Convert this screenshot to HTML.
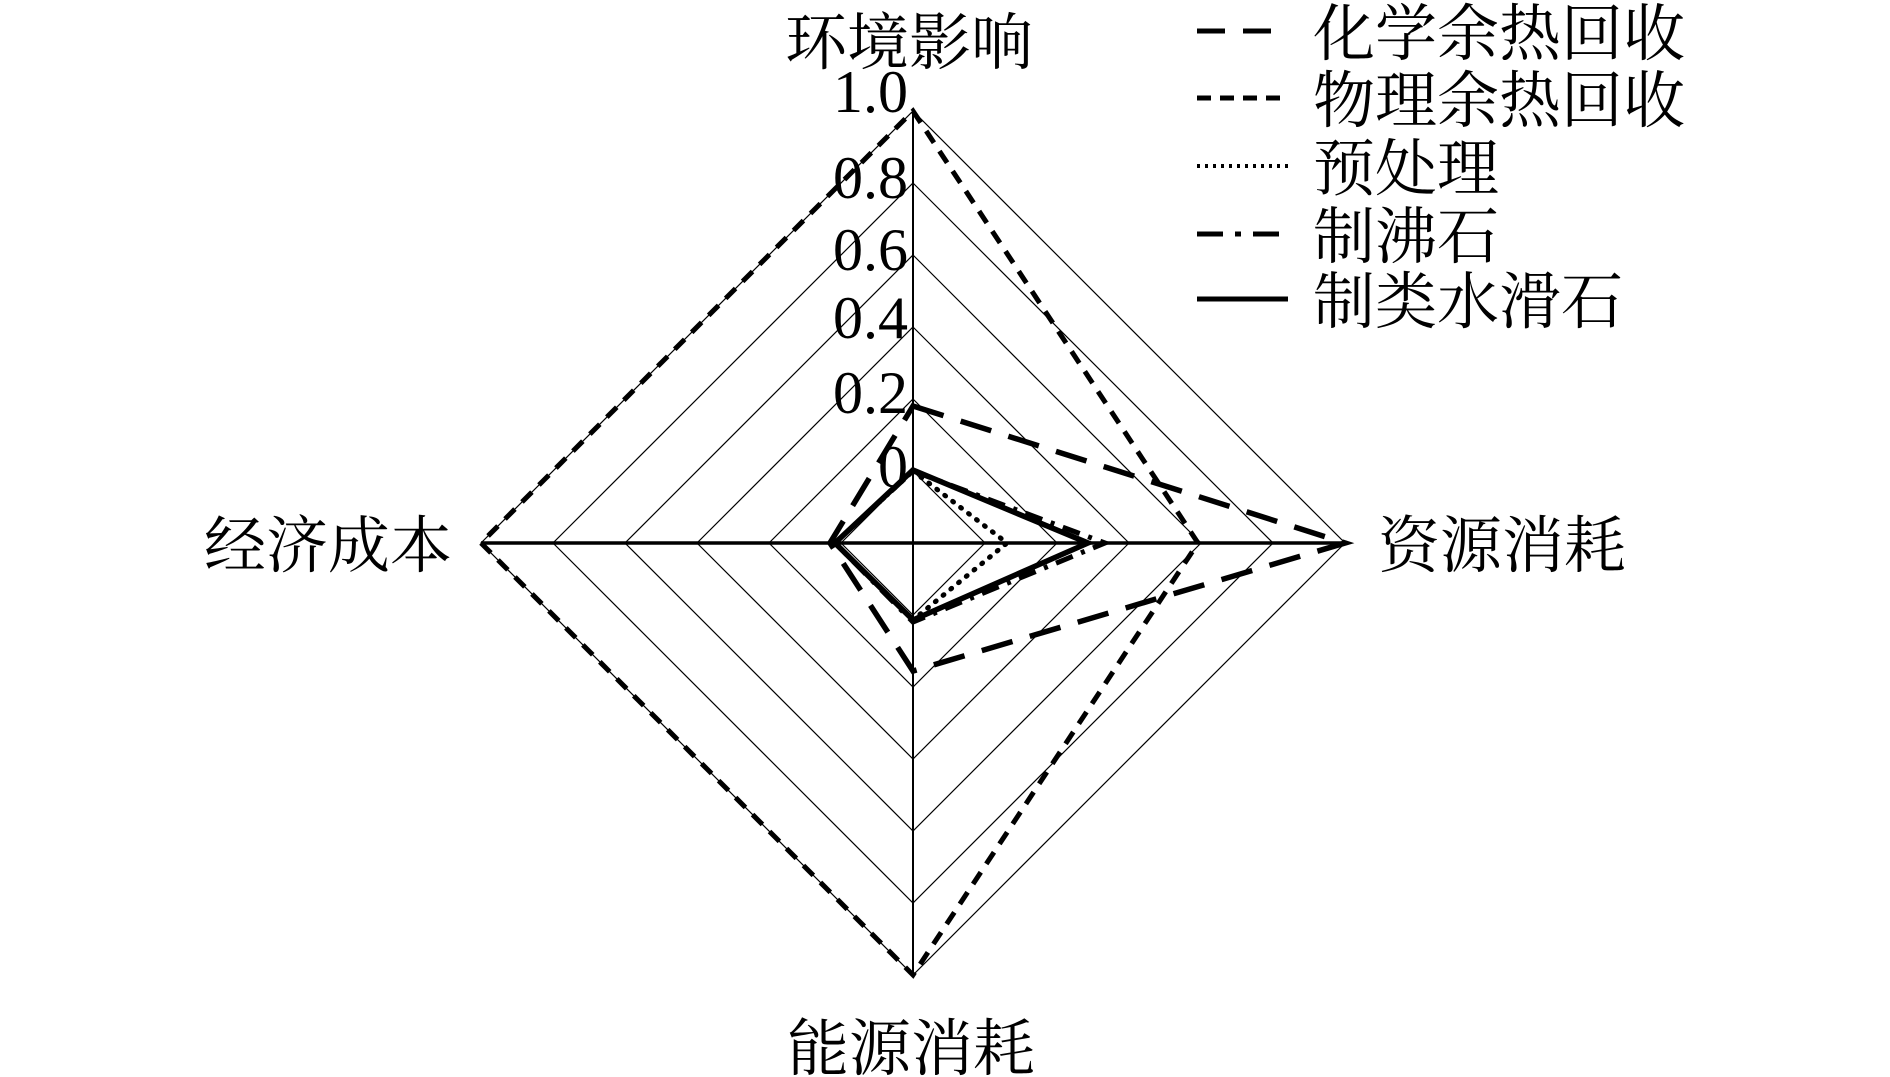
<!DOCTYPE html>
<html><head><meta charset="utf-8"><style>
html,body{margin:0;padding:0;background:#fff;}
svg{display:block;}
text{font-family:"Liberation Serif","Noto Serif CJK SC",serif;fill:#000;}
.cjk{font-family:"Noto Serif CJK SC","Liberation Serif",serif;}
</style></head><body>
<svg width="1890" height="1077" viewBox="0 0 1890 1077" xmlns="http://www.w3.org/2000/svg">
<g fill="none" stroke="#000" stroke-width="1.2">
<polygon points="913,471 985,543 913,615 841,543"/>
<polygon points="913,399 1057,543 913,687 769,543"/>
<polygon points="913,327 1129,543 913,759 697,543"/>
<polygon points="913,255 1201,543 913,831 625,543"/>
<polygon points="913,183 1273,543 913,903 553,543"/>
<polygon points="913,111 1345,543 913,975 481,543"/>
<line x1="913" y1="111" x2="913" y2="975" stroke-width="2"/>
<line x1="481" y1="543" x2="1345" y2="543" stroke-width="3.5"/>
</g>
<g fill="none" stroke="#000" stroke-linejoin="miter">
<polygon points="913,406 1345,543 913,671 830,543" stroke-width="5.5" stroke-dasharray="32 18"/>
<polygon points="913,111 1198,543 913,975 481,543" stroke-width="5" stroke-dasharray="14 10"/>
<polygon points="913,471 1007,543 913,620 835,543" stroke-width="5" stroke-dasharray="1 9" stroke-linecap="round"/>
<polygon points="913,471 1105,543 913,622 835,543" stroke-width="5" stroke-dasharray="18 9 4 9"/>
<polygon points="913,470 1088,543 913,620 835,543" stroke-width="5.5"/>
</g>
<g font-size="60" text-anchor="end">
<text x="908" y="112">1.0</text>
<text x="908" y="198">0.8</text>
<text x="908" y="270">0.6</text>
<text x="908" y="338">0.4</text>
<text x="908" y="413">0.2</text>
<text x="908" y="487">0</text>
</g>
<g font-size="62" class="cjk">
<text class="cjk" x="785" y="64">环境影响</text>
<text class="cjk" x="1378" y="567">资源消耗</text>
<text class="cjk" x="204" y="567">经济成本</text>
<text class="cjk" x="787" y="1070">能源消耗</text>
<text class="cjk" x="1313" y="55">化学余热回收</text>
<text class="cjk" x="1313" y="122">物理余热回收</text>
<text class="cjk" x="1313" y="190">预处理</text>
<text class="cjk" x="1313" y="258">制沸石</text>
<text class="cjk" x="1313" y="323">制类水滑石</text>
</g>
<g stroke="#000" fill="none">
<line x1="1197" y1="31" x2="1288" y2="31" stroke-width="5" stroke-dasharray="28 18"/>
<line x1="1197" y1="98" x2="1288" y2="98" stroke-width="5" stroke-dasharray="14 9"/>
<line x1="1197" y1="166" x2="1288" y2="166" stroke-width="4" stroke-dasharray="3 5"/>
<line x1="1197" y1="234" x2="1288" y2="234" stroke-width="5" stroke-dasharray="26 12 6 12"/>
<line x1="1197" y1="299" x2="1288" y2="299" stroke-width="5"/>
</g>
</svg>
</body></html>
